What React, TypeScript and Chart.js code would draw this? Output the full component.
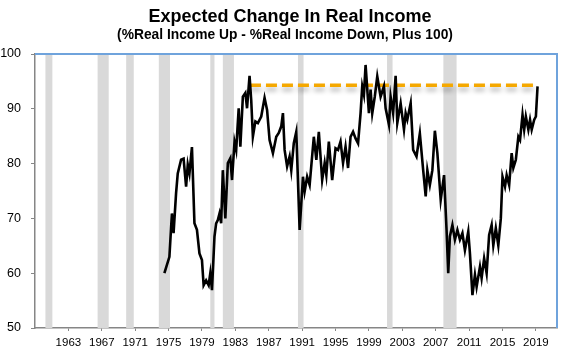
import React, { useEffect, useRef } from 'react';
import { Chart, registerables } from 'chart.js';

Chart.register(...registerables);

const TITLE = 'Expected Change In Real Income';
const SUBTITLE = '(%Real Income Up - %Real Income Down, Plus 100)';

const xTickYears = [1963, 1967, 1971, 1975, 1979, 1983, 1987, 1991, 1995, 1999, 2003, 2007, 2011, 2015, 2019];
const yTickValues = [50, 60, 70, 80, 90, 100];

// decimal years
const dates = [
  1974.5, 1975.1, 1975.4, 1975.6, 1975.9, 1976.1, 1976.5, 1976.8, 1977.1, 1977.3,
  1977.5, 1977.8, 1978.1, 1978.4, 1978.7, 1979.0, 1979.2, 1979.5, 1979.8, 1980.0,
  1980.2, 1980.5, 1980.7, 1980.9, 1981.1, 1981.3, 1981.5, 1981.8, 1982.1, 1982.4,
  1982.6, 1982.9, 1983.1, 1983.4, 1983.6, 1983.9, 1984.2, 1984.4, 1984.7, 1984.9,
  1985.1, 1985.4, 1985.7, 1986.1, 1986.5, 1986.8, 1987.1, 1987.5, 1987.9, 1988.2,
  1988.5, 1988.7, 1988.9, 1989.2, 1989.5, 1989.7, 1990.0, 1990.3, 1990.7, 1991.1,
  1991.3, 1991.6, 1991.9, 1992.4, 1992.7, 1993.0, 1993.4, 1993.7, 1993.9, 1994.2,
  1994.6, 1995.0, 1995.3, 1995.6, 1995.9, 1996.2, 1996.5, 1996.8, 1997.1, 1997.4,
  1997.7, 1998.0, 1998.2, 1998.4, 1998.6, 1999.0, 1999.2, 1999.4, 1999.7, 2000.0,
  2000.4, 2000.8, 2001.0, 2001.4, 2001.6, 2001.9, 2002.2, 2002.4, 2002.8, 2003.2,
  2003.4, 2003.6, 2004.0, 2004.3, 2004.7, 2005.1, 2005.5, 2005.8, 2006.0, 2006.3,
  2006.6, 2006.9, 2007.2, 2007.6, 2008.0, 2008.3, 2008.5, 2008.7, 2009.0, 2009.3,
  2009.6, 2009.9, 2010.2, 2010.5, 2010.9, 2011.1, 2011.4, 2011.7, 2011.9, 2012.3,
  2012.5, 2012.8, 2013.1, 2013.4, 2013.7, 2013.9, 2014.2, 2014.5, 2014.8, 2015.0,
  2015.3, 2015.5, 2015.8, 2016.1, 2016.3, 2016.6, 2016.9, 2017.1, 2017.4, 2017.6,
  2017.8, 2018.1, 2018.3, 2018.5, 2018.8, 2019.0, 2019.2,
];

const incomeIndex = [
  60.0, 63.0, 70.9, 67.3, 74.6, 78.2, 80.7, 80.9, 75.8, 79.8,
  78.2, 83.0, 69.1, 67.9, 63.6, 62.4, 57.8, 58.7, 57.8, 60.0,
  56.9, 66.7, 69.1, 69.7, 70.9, 69.1, 78.8, 70.0, 80.1, 81.0,
  77.0, 84.0, 82.5, 90.1, 83.1, 92.2, 92.9, 90.1, 96.0, 91.6,
  84.9, 87.7, 87.4, 88.6, 92.0, 89.8, 84.3, 81.9, 84.9, 85.6,
  86.8, 89.2, 82.5, 79.5, 81.3, 78.8, 83.7, 85.8, 67.9, 77.6,
  74.9, 77.6, 76.1, 84.9, 80.7, 85.8, 77.0, 80.1, 77.9, 84.0,
  77.0, 82.8, 82.5, 84.0, 80.1, 83.1, 79.2, 84.9, 85.8, 84.6,
  83.7, 89.2, 94.1, 92.6, 98.0, 89.2, 93.5, 89.2, 92.2, 95.9,
  92.2, 94.1, 90.1, 87.1, 92.2, 89.2, 96.0, 87.4, 91.0, 86.2,
  89.2, 88.0, 91.0, 82.5, 81.3, 85.5, 78.8, 74.0, 78.8, 76.1,
  78.8, 86.0, 81.9, 73.4, 77.9, 67.9, 60.0, 66.7, 68.8, 66.1,
  67.9, 66.1, 67.3, 64.2, 67.6, 63.6, 56.0, 59.7, 57.5, 61.2,
  59.1, 62.7, 60.0, 67.0, 68.8, 65.1, 68.2, 65.1, 70.0, 77.6,
  75.8, 77.9, 76.1, 81.9, 79.2, 80.7, 84.9, 84.3, 88.9, 86.2,
  88.6, 86.2, 88.0, 86.2, 88.0, 88.6, 94.1,
];

const benchmarkDates = [1984.75, 2018.85];
const benchmarkValues = [94.3, 94.3];

const recessionStarts = [1960.25, 1966.5, 1969.92, 1973.83, 1980.0, 1981.5, 1990.5, 2001.17, 2007.92];
const recessionEnds = [1961.08, 1967.83, 1970.83, 1975.17, 1980.5, 1982.83, 1991.17, 2001.83, 2009.5];

const FONT = 'Arial, "Liberation Sans", sans-serif';

const titlePlugin = {
  id: 'customTitle',
  afterDraw(chart: any) {
    const ctx = chart.ctx;
    ctx.save();
    ctx.fillStyle = '#000';
    ctx.textAlign = 'center';
    ctx.textBaseline = 'alphabetic';
    ctx.font = `bold 18px ${FONT}`;
    ctx.fillText(TITLE, 290, 22);
    ctx.font = `bold 13.8px ${FONT}`;
    ctx.fillText(SUBTITLE, 285, 38.5);
    ctx.restore();
  },
};

const recessionPlugin = {
  id: 'recessions',
  beforeDatasetsDraw(chart: any) {
    const { ctx, chartArea, scales } = chart;
    const xs = scales.x;
    ctx.save();
    ctx.fillStyle = '#D9D9D9';
    for (let i = 0; i < recessionStarts.length; i++) {
      const x0 = xs.getPixelForValue(recessionStarts[i]);
      const x1 = xs.getPixelForValue(recessionEnds[i]);
      ctx.fillRect(x0, chartArea.top, x1 - x0, chartArea.bottom - chartArea.top);
    }
    ctx.restore();
  },
};

const framePlugin = {
  id: 'frame',
  afterDatasetsDraw(chart: any) {
    const { ctx, chartArea } = chart;
    ctx.save();
    ctx.strokeStyle = '#6FA3DC';
    ctx.lineWidth = 2;
    ctx.beginPath();
    ctx.moveTo(chartArea.left, chartArea.top);
    ctx.lineTo(chartArea.right, chartArea.top);
    ctx.lineTo(chartArea.right, chartArea.bottom);
    ctx.stroke();
    ctx.restore();
  },
};

const shadowPlugin = {
  id: 'shadow',
  beforeDatasetDraw(chart: any, args: any) {
    if (args.index === 1) {
      const ctx = chart.ctx;
      ctx.save();
      ctx.shadowColor = 'rgba(0,0,0,0.3)';
      ctx.shadowBlur = 5;
      ctx.shadowOffsetY = 4;
    }
  },
  afterDatasetDraw(chart: any, args: any) {
    if (args.index === 1) chart.ctx.restore();
  },
};

export default function App() {
  const ref = useRef<HTMLCanvasElement | null>(null);

  useEffect(() => {
    const canvas = ref.current;
    if (!canvas) return;
    const chart = new Chart(canvas, {
      type: 'line',
      data: {
        datasets: [
          {
            label: 'Expected Change In Real Income',
            data: dates.map((d, i) => ({ x: d, y: incomeIndex[i] })),
            borderColor: '#000000',
            borderWidth: 2.6,
            pointRadius: 0,
            tension: 0,
            fill: false,
          },
          {
            label: 'Benchmark',
            data: benchmarkDates.map((d, i) => ({ x: d, y: benchmarkValues[i] })),
            borderColor: '#F5A800',
            borderWidth: 3.5,
            borderDash: [11, 5],
            pointRadius: 0,
            fill: false,
          },
        ],
      },
      options: {
        responsive: false,
        animation: false,
        layout: { padding: { left: 0, right: 16, top: 54, bottom: 0 } },
        plugins: {
          legend: { display: false },
          tooltip: { enabled: false },
          title: { display: false },
          subtitle: { display: false },
        },
        scales: {
          x: {
            type: 'linear',
            min: 1959,
            max: 2021.53,
            afterBuildTicks: (s: any) => {
              s.ticks = xTickYears.map((v) => ({ value: v }));
            },
            afterFit: (s: any) => {
              s.height = 24;
            },
            ticks: {
              autoSkip: false,
              maxRotation: 0,
              color: '#000',
              padding: 5,
              font: { family: FONT, size: 11.5 },
              callback: (v: any) => String(v),
            },
            grid: {
              display: true,
              drawOnChartArea: false,
              drawTicks: true,
              tickLength: 3,
              tickColor: '#868686',
              lineWidth: 1,
            },
            border: { display: true, color: '#868686', width: 1.5 },
          },
          y: {
            min: 50,
            max: 100,
            afterBuildTicks: (s: any) => {
              s.ticks = yTickValues.map((v) => ({ value: v }));
            },
            afterFit: (s: any) => {
              s.width = 35;
            },
            ticks: {
              color: '#000',
              padding: 10,
              font: { family: FONT, size: 12.5 },
            },
            grid: {
              display: true,
              drawOnChartArea: false,
              drawTicks: true,
              tickLength: 4,
              tickColor: '#868686',
              lineWidth: 1,
            },
            border: { display: true, color: '#868686', width: 1.5 },
          },
        },
      },
      plugins: [recessionPlugin, shadowPlugin, framePlugin, titlePlugin],
    } as any);
    return () => chart.destroy();
  }, []);

  return (
    <div style={{ position: 'absolute', left: 0, top: 0, width: 573, height: 352, background: '#fff' }}>
      <canvas ref={ref} width={573} height={352} style={{ display: 'block' }} />
    </div>
  );
}
